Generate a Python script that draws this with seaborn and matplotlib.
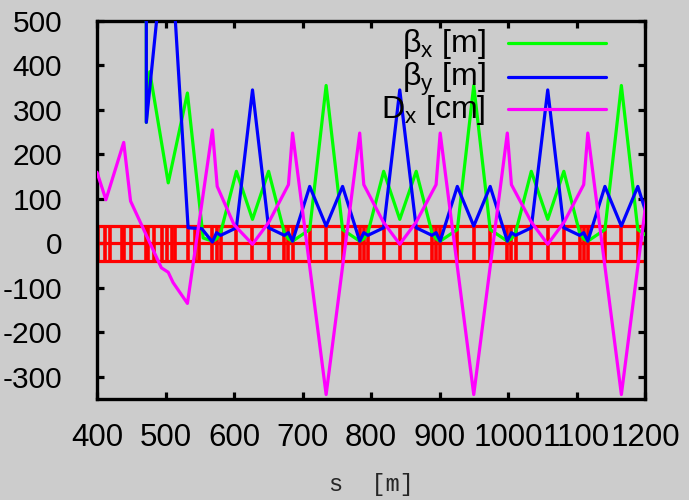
import matplotlib
matplotlib.use("Agg")
import matplotlib.pyplot as plt
import seaborn as sns

# Horizontal beta function [m] along the ring
s_betx = [472, 472, 477, 504, 532, 555, 568.5, 574.5, 580.5, 603.5, 627,
          650.5, 673.5, 679.5, 685.5, 710.5, 734.5, 758.5, 783.5, 789.5, 795.5, 818.5, 842,
          866, 889, 895, 901, 926, 950, 974, 999, 1005, 1011, 1034, 1058,
          1081.5, 1104.5, 1110.5, 1116.5, 1141.5, 1165.5, 1189.5, 1214.5, 1220.5]
betx = [1600, 272, 386, 136, 338, 12, 5, 10, 24, 162, 54,
        162, 24, 10, 5, 31, 355, 31, 5, 10, 24, 162, 54,
        162, 24, 10, 5, 31, 355, 31, 5, 10, 24, 162, 54,
        162, 24, 10, 5, 31, 355, 31, 5, 10]

# Vertical beta function [m]
s_bety = [472, 472, 504, 533, 553, 568.5, 574.5, 580.5, 603.5, 627,
          650.5, 673.5, 679.5, 685.5, 710.5, 734.5, 758.5, 783.5, 789.5, 795.5, 818.5, 842,
          866, 889, 895, 901, 926, 950, 974, 999, 1005, 1011, 1034, 1058,
          1081.5, 1104.5, 1110.5, 1116.5, 1141.5, 1165.5, 1189.5, 1214.5]
bety = [1300, 272, 760, 35, 33, 3, 24, 18, 35, 345,
        35, 18, 24, 5, 128, 39, 128, 5, 24, 18, 35, 345,
        35, 18, 24, 5, 128, 39, 128, 5, 24, 18, 35, 345,
        35, 18, 24, 5, 128, 39, 128, 5]

# Horizontal dispersion [cm]
s_dx = [400, 413, 439, 449, 494, 504, 511, 532, 568.5, 575.5, 600, 627,
        651, 679.5, 685.5, 734.5, 783.5, 789.5, 818, 842,
        866, 895, 901, 950, 999, 1005, 1034, 1058,
        1082, 1110.5, 1116.5, 1165.5, 1214.5, 1220.5]
dx_cm = [160, 98, 227, 95, -55, -65, -88, -135, 255, 128, 42, -2,
         48, 132, 248, -340, 248, 132, 48, -2,
         48, 132, 248, -340, 248, 132, 48, -2,
         48, 132, 248, -340, 248, 132]

# Magnet boundaries of the lattice layout
elem_edges = [392, 402, 411, 419, 436, 439, 449, 471, 474, 483, 495, 502, 510, 514,
              533, 543, 549, 568.5, 574.5, 580.5, 603.5, 627,
              650.5, 673.5, 679.5, 685.5, 710.5, 734.5, 758.5, 783.5, 789.5, 795.5, 818.5, 842,
              866, 889, 895, 901, 926, 950, 974, 999, 1005, 1011, 1034, 1058,
              1081.5, 1104.5, 1110.5, 1116.5, 1141.5, 1165.5, 1189.5, 1214.5, 1220.5]
layout_levels = [-40, 0, 40]

x_ticks = [400, 500, 600, 700, 800, 900, 1000, 1100, 1200]
y_ticks = [-300, -200, -100, 0, 100, 200, 300, 400, 500]

series_labels = ["β$_{\\mathregular{x}}$ [m]", "β$_{\\mathregular{y}}$ [m]",
                 "D$_{\\mathregular{x}}$ [cm]"]
series_colors = ["#00ff00", "#0000ff", "#ff00ff"]

sns.set_style("ticks")
plt.rcParams["font.family"] = ["Liberation Sans", "DejaVu Sans"]
plt.rcParams["mathtext.fontset"] = "custom"
plt.rcParams["mathtext.rm"] = "Liberation Sans"
plt.rcParams["axes.unicode_minus"] = False

bg = "#cccccc"
fig = plt.figure(figsize=(6.89, 5.0), dpi=100, facecolor=bg)
ax = fig.add_axes([97 / 689, 1 - 399 / 500, 548 / 689, 378 / 500])
ax.set_facecolor(bg)

# magnet layout: a stroke at every element edge between the outer rails,
# plus the three long rails
ax.hlines(layout_levels, elem_edges[0], elem_edges[-1], color="#ff0000", lw=2.3, zorder=1)
ax.vlines(elem_edges, layout_levels[0], layout_levels[-1], color="#ff0000", lw=2.6, zorder=1)

# optics
for xs, ys, col in zip([s_betx, s_bety, s_dx], [betx, bety, dx_cm], series_colors):
    sns.lineplot(x=xs, y=ys, sort=False, estimator=None, color=col, lw=2.3,
                 ax=ax, zorder=3)

ax.set_xlim(400, 1200)
ax.set_ylim(-350, 500)
ax.set_xticks(x_ticks)
ax.set_yticks(y_ticks)
ax.set_xticklabels([str(v) for v in x_ticks])
ax.set_yticklabels([str(v) for v in y_ticks])

for sp in ax.spines.values():
    sp.set_visible(True)
    sp.set_color("black")
    sp.set_linewidth(2.4)

ax.tick_params(axis="both", which="major", direction="in", length=5, width=2.3,
               top=True, right=True, colors="black")
ax.tick_params(axis="x", pad=17, labelsize=22.5)
ax.tick_params(axis="y", pad=25, labelsize=21.5)

ax.set_xlabel("s  [m]", fontfamily="Liberation Mono", fontsize=17, labelpad=15)

# key in the upper right: label text followed by line sample
row_y = [0.941, 0.8526, 0.7664]
for lbl, col, yy in zip(series_labels, series_colors, row_y):
    ax.text(0.7099, yy - 0.024, lbl, transform=ax.transAxes, ha="right",
            va="baseline", fontsize=23, color="black", zorder=5)
    ax.plot([0.7495, 0.928], [yy, yy], transform=ax.transAxes, color=col,
            lw=2.3, zorder=5, clip_on=False)

fig.savefig("out.png", dpi=100, facecolor=bg)
